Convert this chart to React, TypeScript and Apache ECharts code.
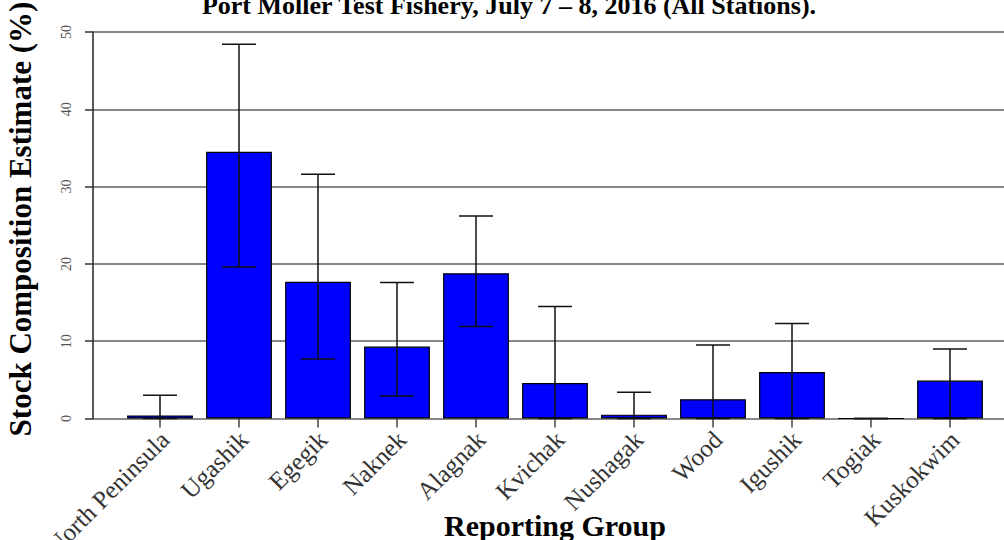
import React, { useEffect, useRef } from "react";
import * as echarts from "echarts";

const categories = [
  "North Peninsula", "Ugashik", "Egegik", "Naknek", "Alagnak", "Kvichak",
  "Nushagak", "Wood", "Igushik", "Togiak", "Kuskokwim",
];
const estimates = [0.4, 34.5, 17.7, 9.3, 18.8, 4.6, 0.5, 2.5, 6.0, 0.0, 4.9];
const lowerCI = [0.0, 19.6, 7.7, 2.9, 11.9, 0.0, 0.0, 0.0, 0.0, 0.0, 0.0];
const upperCI = [3.0, 48.4, 31.6, 17.6, 26.2, 14.5, 3.4, 9.5, 12.3, 0.0, 9.0];
const yMin = 0;
const yMax = 50;
const yStep = 10;

const titleText = "Port Moller Test Fishery, July 7 \u2013 8, 2016 (All Stations).";
const yTitle = "Stock Composition Estimate (%)";
const xTitle = "Reporting Group";

const SERIF = "'Liberation Serif', 'DejaVu Serif', serif";

export default function App() {
  const ref = useRef<HTMLDivElement>(null);
  useEffect(() => {
    if (!ref.current) return;
    const chart = echarts.init(ref.current, undefined, { renderer: "svg" });
    const errData = categories.map((_, i) => [i, lowerCI[i], upperCI[i]]);
    chart.setOption({
      animation: false,
      backgroundColor: "#ffffff",
      grid: [
        { left: 93, right: 0, top: 32, bottom: 121.5, containLabel: false, outerBoundsMode: "none" },
        { left: 120.5, width: 869, top: 32, bottom: 121.5, containLabel: false, outerBoundsMode: "none" },
      ],
      xAxis: [
        { type: "value", gridIndex: 0, min: 0, max: 1, show: false },
        {
          type: "category",
          gridIndex: 1,
          data: categories,
          axisLine: { show: false },
          axisTick: { show: true, alignWithLabel: true, length: 9, lineStyle: { color: "#444", width: 1.5 } },
          axisLabel: {
            interval: 0,
            rotate: 45,
            margin: 12,
            fontFamily: SERIF,
            fontSize: 25,
            color: "#333",
            formatter: (v: string) => `{a|${v}}`,
            rich: {
              a: { padding: [14, 0, 0, 0], fontFamily: SERIF, fontSize: 25, color: "#333" },
            },
          },
          splitLine: { show: false },
        },
      ],
      yAxis: [
        {
          type: "value",
          gridIndex: 0,
          min: yMin,
          max: yMax,
          interval: yStep,
          axisLine: { show: true, lineStyle: { color: "#222", width: 1.5 } },
          axisTick: { show: true, length: 8, lineStyle: { color: "#333", width: 1.5 } },
          axisLabel: { rotate: 90, margin: 20, fontFamily: SERIF, fontSize: 14, color: "#555" },
          splitLine: { show: true, lineStyle: { color: "#888", width: 2 } },
        },
        { type: "value", gridIndex: 1, min: yMin, max: yMax, interval: yStep, show: false },
      ],
      series: [
        {
          type: "bar",
          xAxisIndex: 1,
          yAxisIndex: 1,
          data: estimates,
          barCategoryGap: "16.7%",
          itemStyle: { color: "#0000ff", borderColor: "#000", borderWidth: 1.2 },
          z: 2,
        },
        {
          type: "custom",
          xAxisIndex: 1,
          yAxisIndex: 1,
          data: errData,
          z: 3,
          renderItem: (params: any, api: any) => {
            const i = api.value(0);
            const lo = api.coord([i, api.value(1)]);
            const hi = api.coord([i, api.value(2)]);
            const hw = 17;
            const st = { stroke: "#111", lineWidth: 1.5 };
            return {
              type: "group",
              children: [
                { type: "line", shape: { x1: hi[0], y1: hi[1], x2: lo[0], y2: lo[1] }, style: st },
                { type: "line", shape: { x1: hi[0] - hw, y1: hi[1], x2: hi[0] + hw, y2: hi[1] }, style: st },
                { type: "line", shape: { x1: lo[0] - hw, y1: lo[1], x2: lo[0] + hw, y2: lo[1] }, style: st },
              ],
            };
          },
        },
      ],
      graphic: [
        {
          type: "text",
          x: 509,
          y: 18,
          style: {
            text: titleText,
            font: `bold 26px ${SERIF}`,
            fill: "#000",
            textAlign: "center",
            textVerticalAlign: "bottom",
          },
        },
        {
          type: "text",
          x: 20,
          y: 219,
          rotation: Math.PI / 2,
          style: {
            text: yTitle,
            font: `bold 31px ${SERIF}`,
            fill: "#000",
            textAlign: "center",
            textVerticalAlign: "middle",
          },
        },
        {
          type: "text",
          x: 555,
          y: 540,
          style: {
            text: xTitle,
            font: `bold 30px ${SERIF}`,
            fill: "#000",
            textAlign: "center",
            textVerticalAlign: "bottom",
          },
        },
      ],
    });
    return () => chart.dispose();
  }, []);
  return (
    <div
      ref={ref}
      style={{ position: "fixed", left: 0, top: 0, width: 1004, height: 540, background: "#fff" }}
    />
  );
}
